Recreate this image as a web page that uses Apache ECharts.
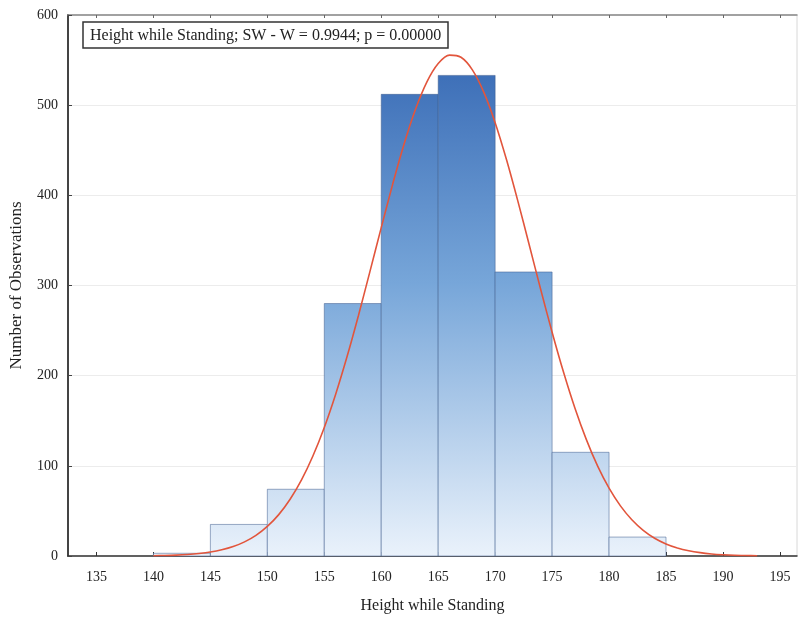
<!DOCTYPE html>
<html>
<head>
<meta charset="utf-8">
<script src="https://cdn.jsdelivr.net/npm/echarts@6/dist/echarts.min.js"></script>
<style>html,body{margin:0;padding:0;background:#fff;}#c{width:805px;height:621px;}</style>
</head>
<body>
<div id="c"></div>
<script>
// Histogram bins (lower edge, width 5) and counts
const binStart = [140, 145, 150, 155, 160, 165, 170, 175, 180];
const binWidth = 5;
const counts = [3, 35, 74, 280, 512, 533, 315, 115, 21];
// Fitted normal curve, values at each unit
const curveX = [140, 141, 142, 143, 144, 145, 146, 147, 148, 149, 150, 151, 152, 153, 154, 155, 156, 157, 158, 159, 160, 161, 162, 163, 164, 165, 166, 167, 168, 169, 170, 171, 172, 173, 174, 175, 176, 177, 178, 179, 180, 181, 182, 183, 184, 185, 186, 187, 188, 189, 190, 191, 192, 193];
const curveY = [0.35, 0.6, 1.0, 1.7, 2.8, 4.4, 6.9, 10.5, 15.7, 22.9, 32.8, 45.9, 62.9, 84.4, 110.9, 142.6, 179.5, 221.2, 266.8, 315.1, 364.2, 412.2, 456.6, 495.1, 525.5, 546.1, 555.5, 553.1, 539.2, 514.5, 480.6, 439.4, 393.3, 344.6, 295.6, 248.2, 204.0, 164.1, 129.3, 99.6, 75.2, 55.6, 40.2, 28.5, 19.7, 13.4, 8.9, 5.8, 3.7, 2.3, 1.4, 0.8, 0.5, 0.3];
// Axis ticks
const xTicks = [135, 140, 145, 150, 155, 160, 165, 170, 175, 180, 185, 190, 195];

const titleText = 'Height while Standing; SW - W = 0.9944; p = 0.00000';
const xName = 'Height while Standing';
const yName = 'Number of Observations';

const FONT = 'Liberation Serif';
const chart = echarts.init(document.getElementById('c'), null, {renderer: 'canvas'});

const gridTop = 15, gridBottom = 65;
const barFill = {
  type: 'linear', x: 0, y: 60, x2: 0, y2: 621 - gridBottom, global: true,
  colorStops: [
    {offset: 0, color: '#3a6cb6'},
    {offset: 0.45, color: '#77a6d9'},
    {offset: 1, color: '#eaf2fb'}
  ]
};

const histData = binStart.map((s, i) => [s, s + binWidth, counts[i]]);
const curveData = curveX.map((x, i) => [x, curveY[i]]);

const option = {
  backgroundColor: '#fff',
  animation: false,
  title: {
    text: titleText,
    left: 83, top: 22,
    padding: [6, 7, 4, 7],
    borderColor: '#333', borderWidth: 1.5,
    textStyle: {fontFamily: FONT, fontSize: 16, fontWeight: 'normal', color: '#222'}
  },
  grid: {
    left: 68, right: 8, top: gridTop, bottom: gridBottom,
    outerBoundsMode: 'none', containLabel: false,
    show: true, borderColor: '#d8d8d8', borderWidth: 1, backgroundColor: 'transparent'
  },
  xAxis: [{
    type: 'value', min: 132.5, max: 196.5,
    position: 'bottom',
    name: xName, nameLocation: 'middle', nameGap: 42,
    nameTextStyle: {fontFamily: FONT, fontSize: 16, color: '#222'},
    axisLine: {show: true, onZero: false, lineStyle: {color: '#333', width: 1.5}},
    axisTick: {show: true, inside: true, length: 4, lineStyle: {color: '#333'},
      customValues: xTicks},
    axisLabel: {fontFamily: FONT, fontSize: 14, color: '#222', margin: 14,
      customValues: xTicks},
    splitLine: {show: false}
  }, {
    type: 'value', min: 132.5, max: 196.5, position: 'top',
    axisLine: {show: true, onZero: false, lineStyle: {color: '#888', width: 1.5}},
    axisTick: {show: true, inside: true, length: 3, lineStyle: {color: '#666'},
      customValues: xTicks},
    axisLabel: {show: false},
    splitLine: {show: false}
  }],
  yAxis: {
    type: 'value', min: 0, max: 600, interval: 100,
    name: yName, nameLocation: 'middle', nameGap: 43,
    nameTextStyle: {fontFamily: FONT, fontSize: 17, color: '#222'},
    axisLine: {show: true, lineStyle: {color: '#444', width: 2}},
    axisTick: {show: true, inside: true, length: 4, lineStyle: {color: '#444'}},
    axisLabel: {fontFamily: FONT, fontSize: 14, color: '#222', margin: 10},
    splitLine: {show: true, lineStyle: {color: '#ececec', width: 1}}
  },
  series: [{
    type: 'custom',
    xAxisIndex: 0,
    data: histData,
    encode: {x: [0, 1], y: 2},
    renderItem: function (params, api) {
      const p0 = api.coord([api.value(0), 0]);
      const p1 = api.coord([api.value(1), api.value(2)]);
      return {
        type: 'rect',
        shape: {x: p0[0], y: p1[1], width: p1[0] - p0[0], height: p0[1] - p1[1]},
        style: {fill: barFill, stroke: 'rgba(60,90,140,0.5)', lineWidth: 1}
      };
    },
    z: 2
  }, {
    type: 'line',
    xAxisIndex: 0,
    data: curveData,
    smooth: 0.3,
    showSymbol: false,
    lineStyle: {color: '#e2553c', width: 1.6},
    z: 3
  }]
};
chart.setOption(option);
</script>
</body>
</html>
